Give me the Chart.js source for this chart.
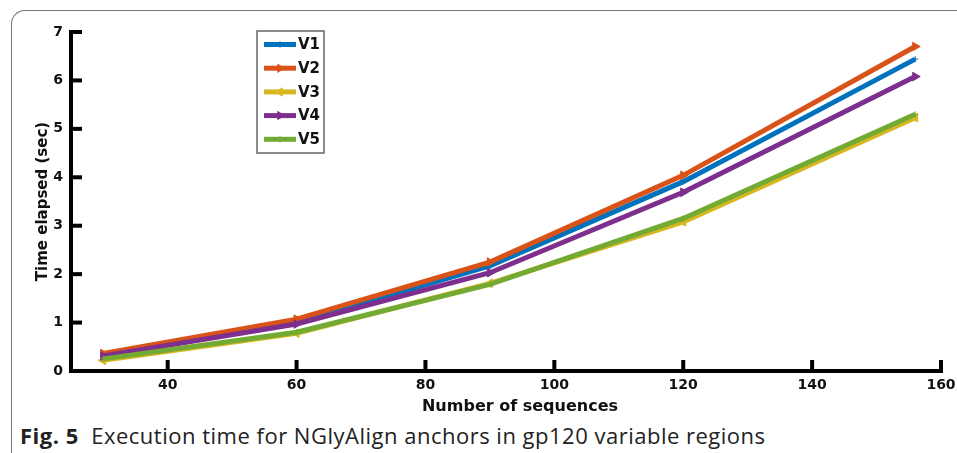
<!DOCTYPE html>
<html><head><meta charset="utf-8">
<script src="https://cdn.jsdelivr.net/npm/chart.js@4/dist/chart.umd.min.js"></script>
<style>
html,body{margin:0;padding:0;background:#fff;}
body{width:957px;height:453px;position:relative;overflow:hidden;}
#frame{position:absolute;left:11px;top:10px;width:980px;height:480px;border-left:1.5px solid #777;border-top:1.5px solid #777;border-top-left-radius:14px;box-sizing:border-box;}
#wrap{position:absolute;left:0;top:0;width:957px;height:420px;}
#cap{position:absolute;left:20px;top:420px;font-family:"Open Sans";font-size:22px;letter-spacing:0.5px;color:#222;white-space:nowrap;}
#cap b{font-weight:700;}
</style></head><body>
<div id="frame"></div>
<div id="wrap"><canvas id="c" width="957" height="420"></canvas></div>
<div id="cap"><b>Fig. 5</b>&nbsp; Execution time for NGlyAlign anchors in gp120 variable regions</div>
<script>
const sequenceCounts = [30, 60, 90, 120, 156];
const seriesNames = ['V1', 'V2', 'V3', 'V4', 'V5'];
const v1 = [0.32, 1.00, 2.17, 3.91, 6.44];
const v2 = [0.36, 1.07, 2.25, 4.04, 6.70];
const v3 = [0.22, 0.78, 1.81, 3.08, 5.23];
const v4 = [0.31, 0.97, 2.03, 3.69, 6.08];
const v5 = [0.25, 0.80, 1.79, 3.15, 5.30];
const xTicks = [40, 60, 80, 100, 120, 140, 160];
const yTicks = [0, 1, 2, 3, 4, 5, 6, 7];
const xTitle = 'Number of sequences';
const yTitle = 'Time elapsed (sec)';

const seriesValues = [v1, v2, v3, v4, v5];
const colors = ['#0072BD', '#D95319', '#D8B622', '#7E2F8E', '#73AA33'];
const styles = [
  {pointStyle: 'cross', rotation: 0, radius: 3},
  {pointStyle: 'triangle', rotation: 90, radius: 5},
  {pointStyle: 'triangle', rotation: -90, radius: 5},
  {pointStyle: 'triangle', rotation: 90, radius: 5},
  {pointStyle: 'cross', rotation: 0, radius: 3}
];

const datasets = seriesNames.map((n, i) => ({
  label: n,
  data: sequenceCounts.map((x, j) => ({x: x, y: seriesValues[i][j]})),
  borderColor: colors[i],
  backgroundColor: colors[i],
  borderWidth: 5,
  pointStyle: styles[i].pointStyle,
  pointRotation: styles[i].rotation,
  pointRadius: styles[i].radius,
  pointBorderWidth: 1,
  tension: 0,
  order: 5 - i
}));

const axesPlugin = {
  id: 'axesPlugin',
  afterDraw(chart) {
    const ctx = chart.ctx, xs = chart.scales.x, ys = chart.scales.y, ca = chart.chartArea;
    ctx.save();
    ctx.fillStyle = '#000';
    ctx.fillRect(ca.left - 2, ca.top - 2, 4, ca.bottom - ca.top + 4);
    ctx.fillRect(ca.left - 2, ca.bottom - 2, ca.right - ca.left + 4, 4);
    xTicks.forEach(v => { const px = xs.getPixelForValue(v); ctx.fillRect(px - 2, ca.bottom - 11, 4, 11); });
    yTicks.forEach(v => { const py = ys.getPixelForValue(v); ctx.fillRect(ca.left, py - 2, 11, 4); });
    ctx.fillStyle = '#111';
    ctx.font = 'bold 16px "DejaVu Sans"';
    ctx.textAlign = 'center';
    ctx.textBaseline = 'middle';
    ctx.fillText(xTitle, 520, 407);
    ctx.restore();
  }
};

const boxLegend = {
  id: 'boxLegend',
  afterDraw(chart) {
    const ctx = chart.ctx;
    const bx = 257, by = 31, bw = 67, bh = 122;
    ctx.save();
    ctx.fillStyle = '#fff';
    ctx.fillRect(bx, by, bw, bh);
    ctx.strokeStyle = '#666';
    ctx.lineWidth = 1.5;
    ctx.strokeRect(bx, by, bw, bh);
    chart.data.datasets.forEach((ds, i) => {
      const y = 44.5 + i * 23.7;
      ctx.fillStyle = ds.borderColor;
      ctx.strokeStyle = ds.borderColor;
      ctx.fillRect(264, y - 2.5, 32, 5);
      Chart.helpers.drawPoint(ctx, {pointStyle: ds.pointStyle, rotation: ds.pointRotation, radius: Math.min(ds.pointRadius, 4), borderWidth: 1}, 280, y);
      ctx.fillStyle = '#111';
      ctx.font = 'bold 15px "DejaVu Sans"';
      ctx.textBaseline = 'middle';
      ctx.textAlign = 'left';
      ctx.fillText(ds.label, 298, y + 1);
    });
    ctx.restore();
  }
};

new Chart(document.getElementById('c'), {
  type: 'line',
  data: {datasets: datasets},
  options: {
    responsive: false,
    animation: false,
    devicePixelRatio: 1,
    layout: {padding: {top: 32, right: 16, left: 0, bottom: 0}},
    plugins: {legend: {display: false}, tooltip: {enabled: false}},
    scales: {
      x: {
        type: 'linear', min: 25, max: 160,
        afterBuildTicks: s => { s.ticks = xTicks.map(v => ({value: v})); },
        afterFit: s => { s.height = 49; s.paddingRight = 0; s.paddingLeft = 0; },
        grid: {display: false, drawTicks: false},
        border: {display: false},
        ticks: {padding: 6, color: '#111', font: {family: 'DejaVu Sans', weight: 'bold', size: 14}, maxRotation: 0},
        title: {display: false}
      },
      y: {
        type: 'linear', min: 0, max: 7,
        afterBuildTicks: s => { s.ticks = yTicks.map(v => ({value: v})); },
        afterFit: s => { s.width = 71; s.paddingTop = 0; s.paddingBottom = 0; },
        grid: {display: false, drawTicks: false},
        border: {display: false},
        ticks: {padding: 8, color: '#111', font: {family: 'DejaVu Sans', weight: 'bold', size: 14}},
        title: {display: true, text: yTitle, color: '#111', padding: {top: 34, bottom: 0}, font: {family: 'DejaVu Sans', weight: 'bold', size: 15}}
      }
    }
  },
  plugins: [axesPlugin, boxLegend]
});
</script>
</body></html>
